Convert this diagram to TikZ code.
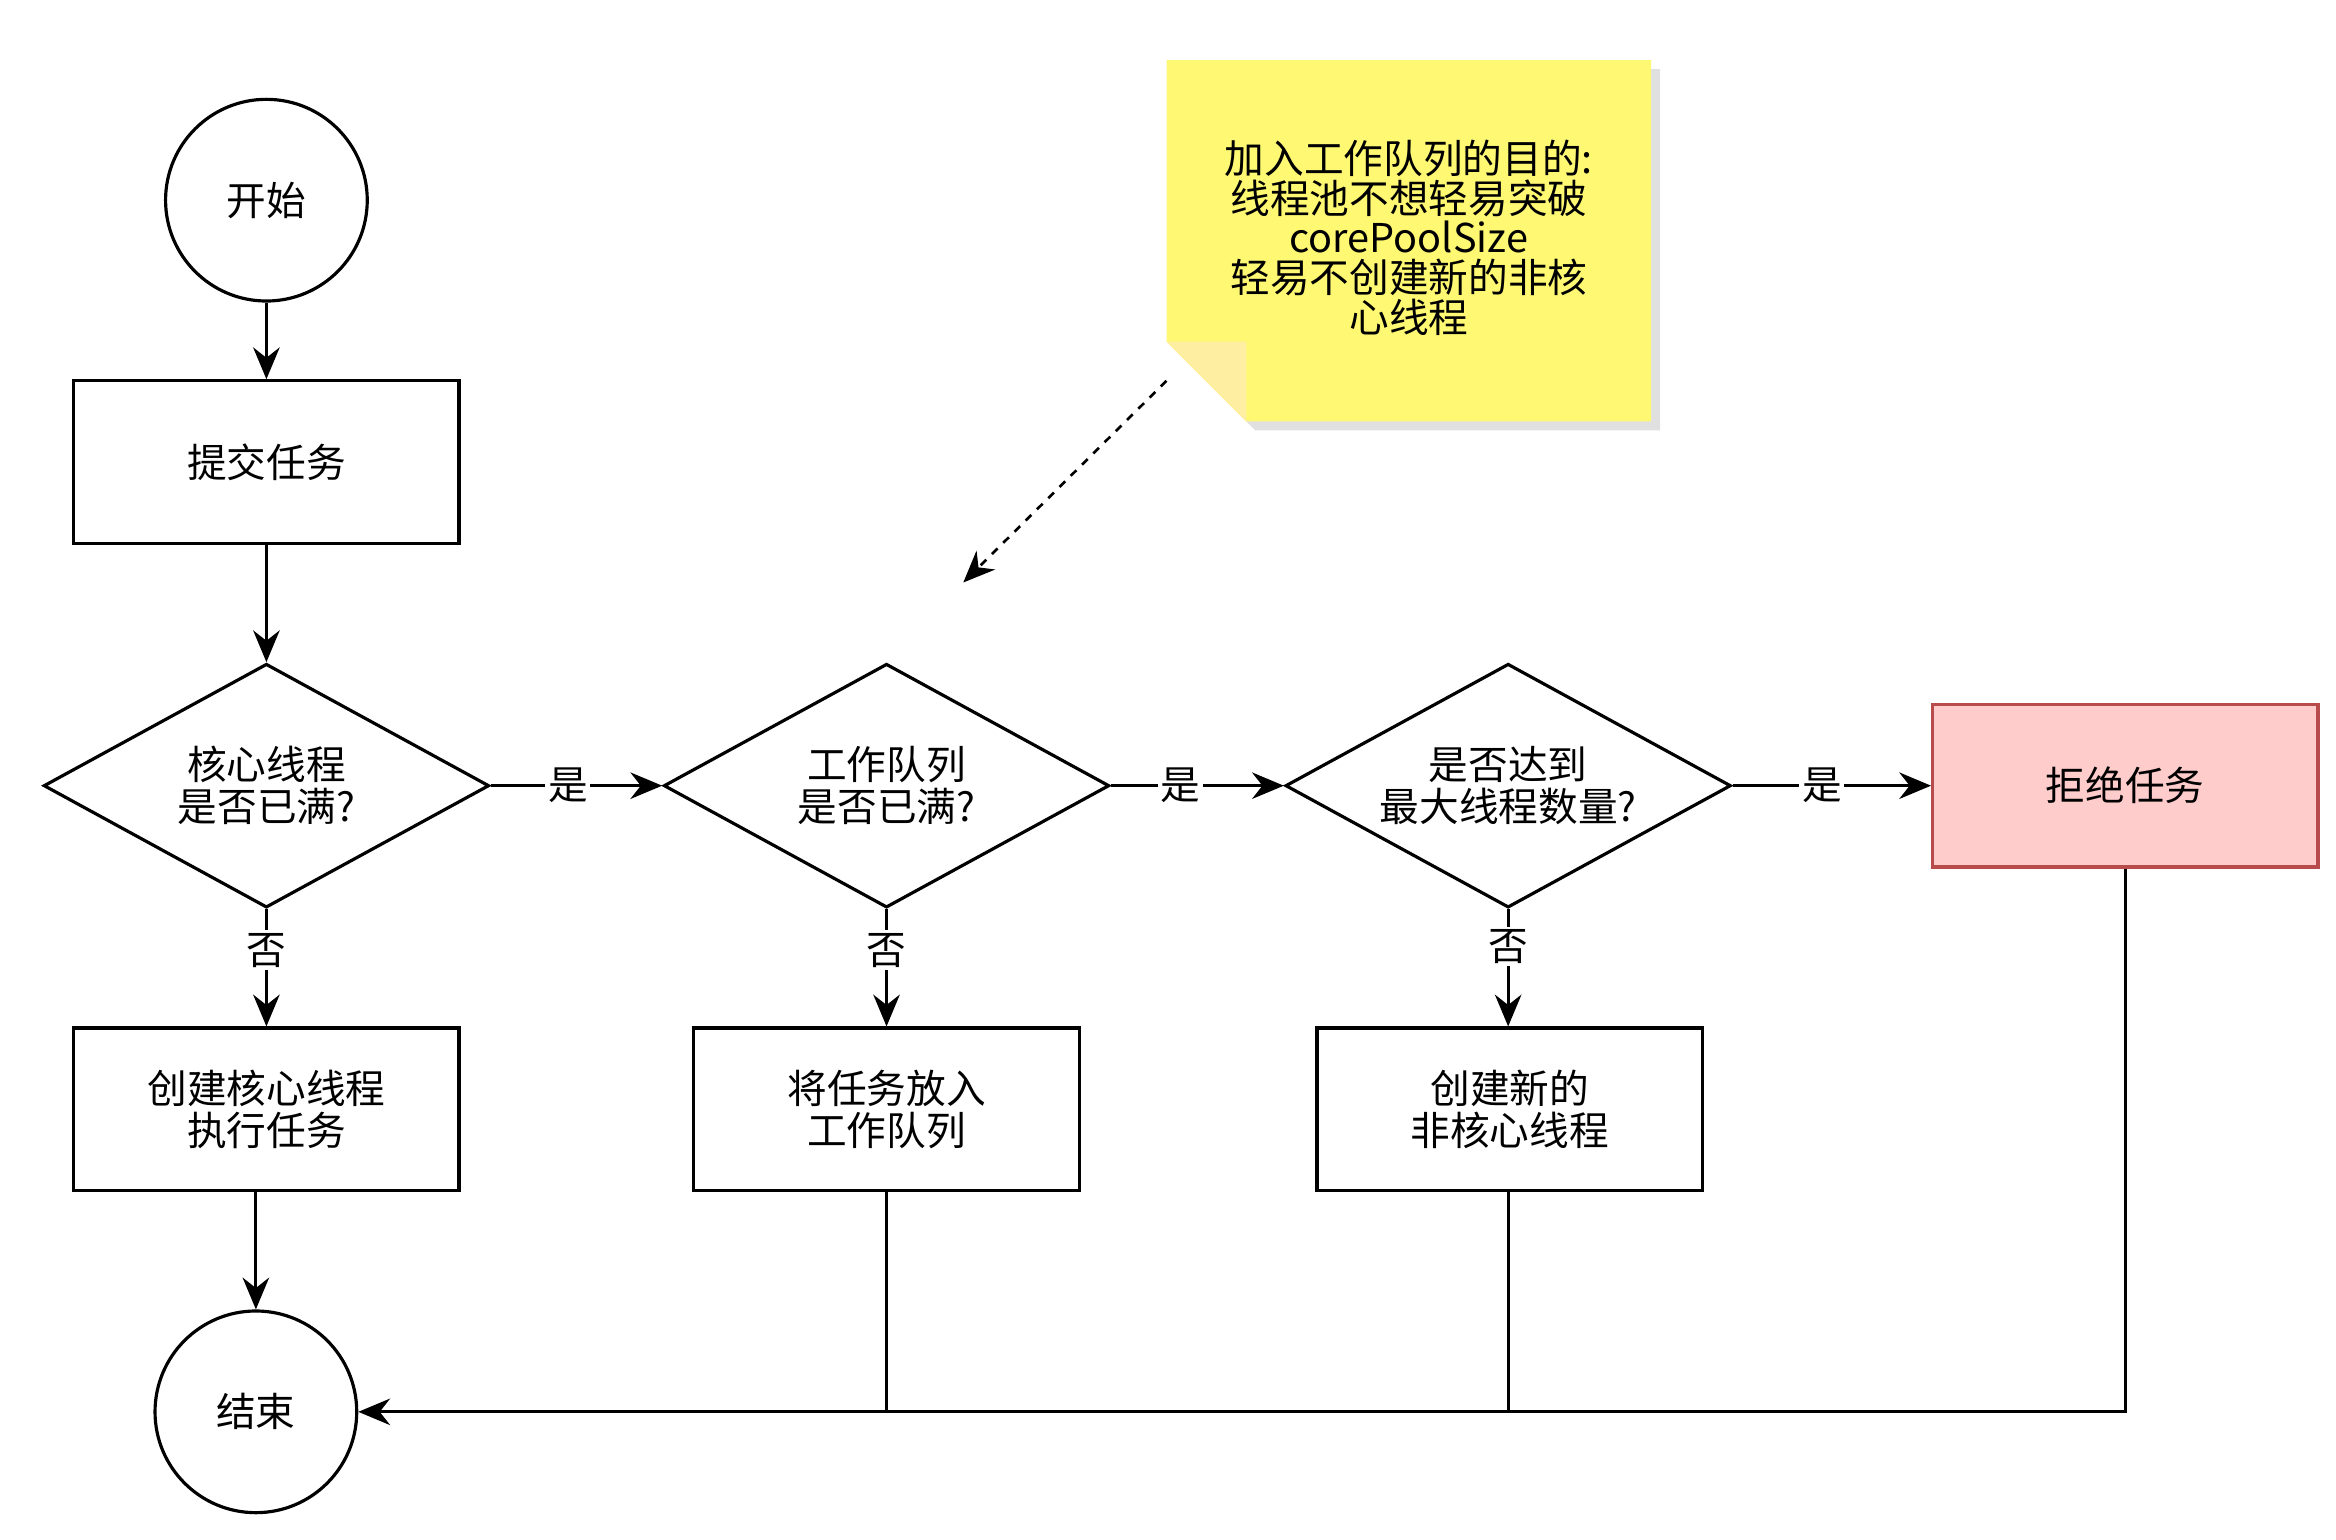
\documentclass[tikz,border=0pt]{standalone}
\usepackage{fontspec}
\setmainfont{Noto Sans CJK SC}
\usetikzlibrary{arrows.meta,shapes.geometric,calc}
\begin{document}
\begin{tikzpicture}[x=0.02cm,y=-0.02cm,
 every node/.style={font=\fontsize{15}{18}\selectfont},
 line/.style={draw,line width=1.2pt},
 arr/.style={line,-{Stealth[length=12pt,width=10pt]}},
 box/.style={draw,line width=1.2pt,minimum width=256*0.02cm,minimum height=108*0.02cm,align=center,inner sep=0},
 dia/.style={draw,line width=1.2pt,diamond,aspect=1.82,minimum width=296*0.02cm,minimum height=162*0.02cm,align=center,inner sep=0},
 circ/.style={draw,line width=1.2pt,circle,minimum size=134*0.02cm,inner sep=0},
 lbl/.style={fill=white,inner sep=1pt}]
\useasboundingbox (0,0) rectangle (1552,1023);
\node[circ] (start) at (177,133) {开始};
\node[box] (submit) at (177,307) {提交任务};
\node[dia] (d1) at (177,522) {核心线程\\[-2pt]是否已满?};
\node[dia] (d2) at (589,522) {工作队列\\[-2pt]是否已满?};
\node[dia] (d3) at (1002,522) {是否达到\\[-2pt]最大线程数量?};
\node[box,fill=red!20!white,draw=red!60!black!70] (rej) at (1412,522) {拒绝任务};
\node[box] (b1) at (177,737) {创建核心线程\\[-2pt]执行任务};
\node[box] (b2) at (589,737) {将任务放入\\[-2pt]工作队列};
\node[box] (b3) at (1003,737) {创建新的\\[-2pt]非核心线程};
\node[circ] (end) at (170,938) {结束};
% note
\fill[gray!40,opacity=0.6] (781,46) -- (1103,46) -- (1103,286) -- (834,286) -- (781,233) -- cycle;
\fill[yellow!55!white] (775,40) -- (1097,40) -- (1097,280) -- (828,280) -- (775,227) -- cycle;
\fill[yellow!70!orange!35!white] (775,227) -- (828,227) -- (828,280) -- cycle;
\node[align=center,text width=320*0.02cm] (note) at (936,158) {加入工作队列的目的:\\[-3pt]线程池不想轻易突破\\[-3pt]corePoolSize\\[-3pt]轻易不创建新的非核\\[-3pt]心线程};
\coordinate (n1) at (775,253);
\coordinate (n2) at (640,387);
\draw[arr,dashed,line width=1pt] (n1) -- (n2);
% connectors
\draw[arr] (start) -- (submit);
\draw[arr] (submit) -- (d1.north);
\draw[arr] (d1.east) -- node[lbl,pos=0.45]{是} (d2.west);
\draw[arr] (d2.east) -- node[lbl,pos=0.4]{是} (d3.west);
\draw[arr] (d3.east) -- node[lbl,pos=0.45]{是} (rej.west);
\draw[arr] (d1.south) -- node[lbl,pos=0.35]{否} (b1.north);
\draw[arr] (d2.south) -- node[lbl,pos=0.35]{否} (b2.north);
\draw[arr] (d3.south) -- node[lbl,pos=0.32]{否} (b3.north -| d3.south);
\draw[arr] (b1.south -| end.north) -- (end.north);
\draw[arr] (rej.south) |- (end.east);
\draw[line] (b2.south) -- (b2.south |- end.east);
\draw[line] (b3.south -| d3.south) -- (d3.south |- end.east);
\end{tikzpicture}
\end{document}
